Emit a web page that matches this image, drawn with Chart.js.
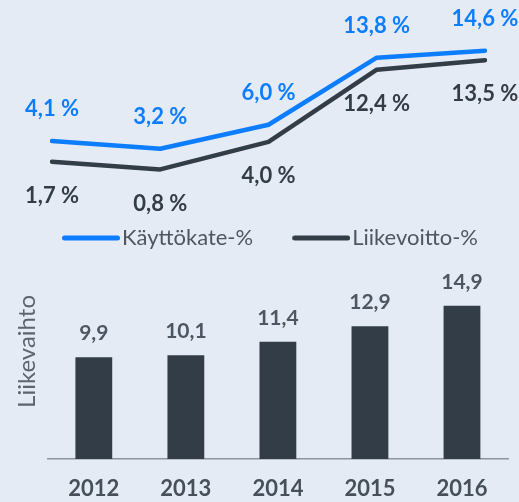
<!DOCTYPE html>
<html><head><meta charset="utf-8">
<script src="https://cdn.jsdelivr.net/npm/chart.js@4"></script>
<style>
html,body{margin:0;padding:0;background:#e5ebf5;overflow:hidden;}
canvas{display:block;}
</style></head><body>
<canvas id="line" width="519" height="260"></canvas>
<canvas id="bar" width="519" height="242"></canvas>
<script>
const years = ['2012','2013','2014','2015','2016'];
const kayttokate = [4.1, 3.2, 6.0, 13.8, 14.6];
const liikevoitto = [1.7, 0.8, 4.0, 12.4, 13.5];
const liikevaihto = [9.9, 10.1, 11.4, 12.9, 14.9];
const seriesNames = ['Käyttökate-%', 'Liikevoitto-%'];
const axisTitle = 'Liikevaihto';

const BLUE = '#0d7dff', DARK = '#323d47', FONT = 'Lato';
const fmt = v => v.toFixed(1).replace('.', ',');

// legend swatch: a rounded line placed at the right end of a wider transparent image
function swatch(color) {
  const c = document.createElement('canvas');
  c.width = 96; c.height = 6;
  const g = c.getContext('2d');
  g.strokeStyle = color; g.lineWidth = 5; g.lineCap = 'round';
  g.beginPath(); g.moveTo(40.5, 3); g.lineTo(93.5, 3); g.stroke();
  return c;
}

const lineLabels = {
  id: 'lineLabels',
  afterDatasetsDraw(chart) {
    const ctx = chart.ctx;
    ctx.save();
    ctx.textAlign = 'center'; ctx.textBaseline = 'middle';
    ctx.font = 'bold 22px ' + FONT;
    chart.data.datasets.forEach((ds, i) => {
      const meta = chart.getDatasetMeta(i);
      meta.data.forEach((el, j) => {
        ctx.fillStyle = ds.borderColor;
        const dy = i === 0 ? -32 : 34;
        ctx.fillText(fmt(ds.data[j]) + ' %', el.x, el.y + dy);
      });
    });
    ctx.restore();
  }
};

const barLabels = {
  id: 'barLabels',
  afterDatasetsDraw(chart) {
    const ctx = chart.ctx;
    ctx.save();
    ctx.textAlign = 'center'; ctx.textBaseline = 'middle';
    ctx.font = 'bold 21px ' + FONT;
    ctx.fillStyle = '#4d5763';
    const ds = chart.data.datasets[0];
    chart.getDatasetMeta(0).data.forEach((el, j) => {
      ctx.fillText(fmt(ds.data[j]), el.x, el.y - 24);
    });
    ctx.restore();
  }
};

new Chart(document.getElementById('line'), {
  type: 'line',
  data: {
    labels: years,
    datasets: [
      {label: seriesNames[0], data: kayttokate, borderColor: BLUE, backgroundColor: BLUE, borderWidth: 4.5, pointRadius: 0, borderCapStyle: 'round', borderJoinStyle: 'round', tension: 0},
      {label: seriesNames[1], data: liikevoitto, borderColor: DARK, backgroundColor: DARK, borderWidth: 4.5, pointRadius: 0, borderCapStyle: 'round', borderJoinStyle: 'round', tension: 0}
    ]
  },
  options: {
    responsive: false, animation: false, devicePixelRatio: 1,
    layout: {padding: {left: 0, right: 8, top: 10, bottom: 1}},
    scales: {
      x: {display: false, offset: false},
      y: {
        min: -4.73, max: 19.34,
        grid: {display: false, drawTicks: false, tickLength: 0},
        border: {display: false}, ticks: {display: false},
        afterFit: s => { s.width = 52; }
      },
      yRight: {
        type: 'linear', position: 'right', display: true,
        grid: {display: false, drawTicks: false, tickLength: 0},
        border: {display: false}, ticks: {display: false},
        afterFit: s => { s.width = 26; }
      }
    },
    plugins: {
      tooltip: {enabled: false},
      legend: {
        position: 'bottom',
        labels: {
          font: {family: FONT, size: 22},
          color: '#4e5661',
          usePointStyle: true, pointStyleWidth: 78, boxHeight: 6, padding: 10,
          generateLabels: chart => chart.data.datasets.map((ds, i) => ({
            text: ds.label, fillStyle: ds.borderColor, strokeStyle: ds.borderColor,
            lineWidth: 0, hidden: false, datasetIndex: i, pointStyle: swatch(ds.borderColor), fontColor: '#4e5661'
          }))
        }
      }
    }
  },
  plugins: [lineLabels]
});

new Chart(document.getElementById('bar'), {
  type: 'bar',
  data: {
    labels: years,
    datasets: [{label: axisTitle, data: liikevaihto, backgroundColor: DARK, borderWidth: 0, barPercentage: 0.8, categoryPercentage: 0.5}]
  },
  options: {
    responsive: false, animation: false, devicePixelRatio: 1,
    layout: {padding: {left: 9, right: 11, top: 35, bottom: 1}},
    scales: {
      x: {
        grid: {display: false, drawTicks: false, tickLength: 0},
        border: {display: true, color: '#8d949c', width: 1.5},
        ticks: {font: {family: FONT, size: 22, weight: 'bold'}, color: '#46505b', padding: 17},
        afterFit: s => { s.height = 42; }
      },
      y: {
        min: 0, max: 15.95,
        grid: {display: false, drawTicks: false, tickLength: 0},
        border: {display: false},
        ticks: {display: false},
        title: {display: true, text: axisTitle, align: 'end', font: {family: FONT, size: 24}, color: '#5b6570', padding: {top: 4, bottom: 6}}
      }
    },
    plugins: {legend: {display: false}, tooltip: {enabled: false}}
  },
  plugins: [barLabels]
});
</script>
</body></html>
